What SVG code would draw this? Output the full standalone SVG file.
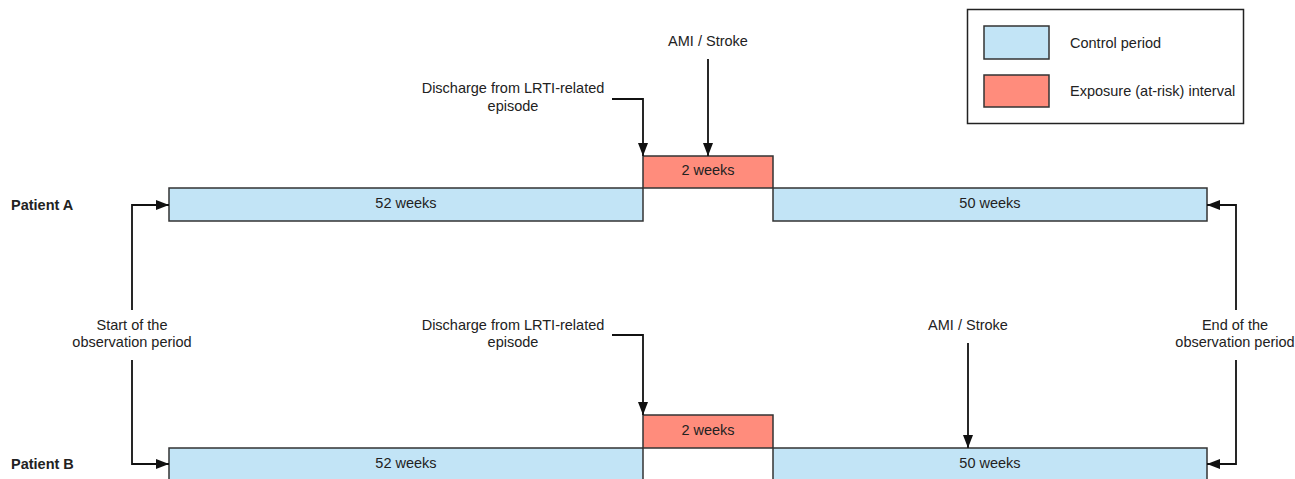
<svg xmlns="http://www.w3.org/2000/svg" width="1295" height="479" viewBox="0 0 1295 479">
<style>
text{font-family:"Liberation Sans",Arial,sans-serif;font-size:14.5px;fill:#222}
.c{text-anchor:middle}
.b{font-weight:bold}
.blue{fill:#c2e4f6;stroke:#333;stroke-width:1.5}
.red{fill:#ff8c7c;stroke:#333;stroke-width:1.5}
.conn{fill:none;stroke:#111;stroke-width:1.8}
</style>
<defs>
<marker id="ah" viewBox="0 0 13 10" refX="13" refY="5" markerWidth="13" markerHeight="10" markerUnits="userSpaceOnUse" orient="auto">
<path d="M0,0 L13,5 L0,10 z" fill="#111"/>
</marker>
</defs>
<rect width="1295" height="479" fill="#fff"/>
<g id="legend">
<rect x="967.5" y="9.5" width="276" height="114" fill="#fff" stroke="#222" stroke-width="1.5"/>
<rect class="blue" x="984" y="26" width="65" height="33"/>
<rect class="red" x="984" y="75" width="65" height="32"/>
<text x="1070" y="48">Control period</text>
<text x="1070" y="96">Exposure (at-risk) interval</text>
</g>
<g id="patientA">
<text class="b" x="11" y="210">Patient A</text>
<rect class="blue" x="169" y="188" width="474" height="33"/>
<rect class="red" x="643" y="156" width="130" height="32"/>
<rect class="blue" x="773" y="188" width="434" height="33"/>
<text class="c" x="406" y="208">52 weeks</text>
<text class="c" x="708" y="175">2 weeks</text>
<text class="c" x="990" y="208">50 weeks</text>
</g>
<g id="patientB">
<text class="b" x="11" y="469">Patient B</text>
<rect class="blue" x="169" y="448" width="474" height="35"/>
<rect class="red" x="643" y="415" width="130" height="33"/>
<rect class="blue" x="773" y="448" width="434" height="35"/>
<text class="c" x="406" y="468">52 weeks</text>
<text class="c" x="708" y="435">2 weeks</text>
<text class="c" x="990" y="468">50 weeks</text>
</g>
<g id="labels">
<text class="c" x="708" y="46">AMI / Stroke</text>
<text class="c" x="513" y="93">Discharge from LRTI-related</text>
<text class="c" x="513" y="111">episode</text>
<text class="c" x="132" y="330">Start of the</text>
<text class="c" x="132" y="347">observation period</text>
<text class="c" x="1235" y="330">End of the</text>
<text class="c" x="1235" y="347">observation period</text>
<text class="c" x="513" y="330">Discharge from LRTI-related</text>
<text class="c" x="513" y="347">episode</text>
<text class="c" x="968" y="330">AMI / Stroke</text>
</g>
<g id="connectors">
<path class="conn" d="M612,99 H643 V156" marker-end="url(#ah)"/>
<path class="conn" d="M708,59 V156" marker-end="url(#ah)"/>
<path class="conn" d="M132,310 V205 H169" marker-end="url(#ah)"/>
<path class="conn" d="M132,360 V464 H169" marker-end="url(#ah)"/>
<path class="conn" d="M1236,310 V205 H1207" marker-end="url(#ah)"/>
<path class="conn" d="M1236,360 V464 H1207" marker-end="url(#ah)"/>
<path class="conn" d="M612,335 H643 V415" marker-end="url(#ah)"/>
<path class="conn" d="M968,343 V448" marker-end="url(#ah)"/>
</g>
</svg>
